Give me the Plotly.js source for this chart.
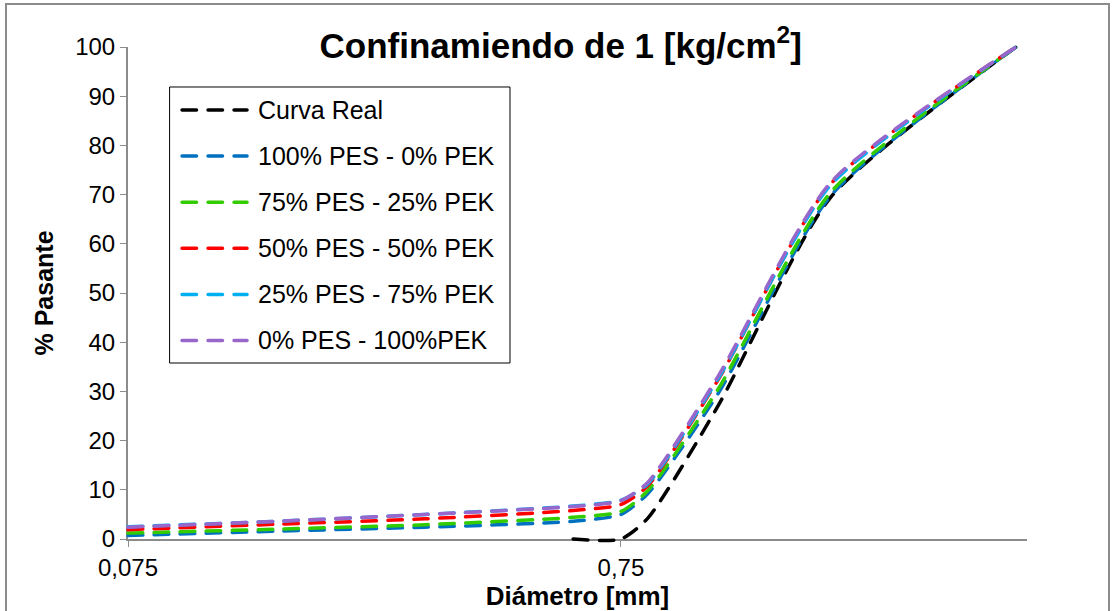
<!DOCTYPE html>
<html>
<head>
<meta charset="utf-8">
<script src="https://cdn.plot.ly/plotly-3.0.1.min.js"></script>
<style>
  html, body { margin: 0; padding: 0; background: #fff; }
  #wrap { position: relative; width: 1117px; height: 611px; overflow: hidden; }
  #chart { width: 1117px; height: 611px; }
  #frame { position: absolute; left: 5px; top: 3px; width: 1105px; height: 620px;
           border: 2px solid #8c8c8c; pointer-events: none; box-sizing: border-box; }
  .scatterlayer path.js-line, .shapelayer path { stroke-linecap: round; }
  /* let the curve ends at 0 % and 100 % show their full line width */
  .cartesianlayer g, .cartesianlayer path { clip-path: none !important; }
</style>
</head>
<body>
<div id="wrap">
  <div id="chart"></div>
  <div id="frame"></div>
</div>
<script>
// Sieve diameters [mm]
const diam = [0.075, 0.15, 0.3, 0.6, 0.75, 0.85, 1.18, 2.0, 4.75];
const diamReal = [0.6, 0.75, 0.85, 1.18, 2.0, 4.75];

// % passing for each mixture
const curvaReal = [0, 0, 4.2, 27, 69.5, 100];
const pes100pek0 = [0.7, 1.6, 2.4, 3.6, 5.0, 9.2, 29.5, 69.8, 100];
const pes75pek25 = [1.2, 2.0, 2.9, 4.4, 5.6, 9.8, 30.4, 70.5, 100];
const pes50pek50 = [1.9, 3.0, 4.1, 5.8, 7.0, 10.8, 32.3, 72.2, 100];
const pes25pek75 = [2.5, 3.6, 5.0, 6.7, 7.9, 11.2, 32.5, 72.0, 100];
const pes0pek100 = [2.4, 3.6, 5.0, 6.6, 7.8, 11.5, 33.0, 72.5, 100];

const seriesNames = ['Curva Real', '100% PES - 0% PEK', '75% PES - 25% PEK',
                     '50% PES - 50% PEK', '25% PES - 75% PEK', '0% PES - 100%PEK'];
const seriesColors = ['#000000', '#0070C0', '#33CC00', '#FF0000', '#00B0F0', '#9966CC'];

const xTickVals = [0.075, 0.75];
const xTickText = ['0,075', '0,75'];

const FONT = 'Arial, "Liberation Sans", sans-serif';
const DASH = '14.5px,11.5px';
const LINE_W = 3.5;

const xs = [diamReal, diam, diam, diam, diam, diam];
const ys = [curvaReal, pes100pek0, pes75pek25, pes50pek50, pes25pek75, pes0pek100];

const traces = ys.map((y, i) => ({
  type: 'scatter',
  mode: 'lines',
  x: xs[i],
  y: y,
  name: seriesNames[i],
  line: { color: seriesColors[i], width: LINE_W, dash: DASH, shape: 'spline', smoothing: 0.65 },
  cliponaxis: false,
  hoverinfo: 'skip'
}));

// Legend panel (paper coordinates of the plot area)
const legBox = { x0: 0.0467, x1: 0.4249, y0: 0.3577, y1: 0.9187 };
const legTop = 0.872, legStep = 0.0937;
const legLineX0 = 0.0601, legLineX1 = 0.1324, legTextX = 0.1424;

const shapes = [{
  type: 'rect', xref: 'paper', yref: 'paper',
  x0: legBox.x0, x1: legBox.x1, y0: legBox.y0, y1: legBox.y1,
  line: { color: '#000', width: 1 }, fillcolor: '#ffffff', layer: 'above'
}];
const annotations = [];
seriesNames.forEach((name, i) => {
  const yy = legTop - i * legStep;
  shapes.push({
    type: 'line', xref: 'paper', yref: 'paper',
    x0: legLineX0, x1: legLineX1, y0: yy, y1: yy,
    line: { color: seriesColors[i], width: LINE_W, dash: DASH }, layer: 'above'
  });
  annotations.push({
    xref: 'paper', yref: 'paper', x: legTextX, y: yy,
    xanchor: 'left', yanchor: 'middle', showarrow: false,
    text: name, font: { family: FONT, size: 25, color: '#000' }
  });
});

const layout = {
  width: 1117,
  height: 611,
  margin: { l: 128, r: 90, t: 47, b: 72 },
  paper_bgcolor: '#ffffff',
  plot_bgcolor: '#ffffff',
  font: { family: FONT, color: '#000', size: 24 },
  showlegend: false,
  title: {
    text: '<b>Confinamiendo de 1 [kg/cm<sup>2</sup>]</b>',
    font: { family: FONT, size: 35, color: '#000' },
    xref: 'container', x: 0.502, xanchor: 'center',
    yref: 'container', y: 0.925, yanchor: 'middle'
  },
  xaxis: {
    type: 'log',
    range: [Math.log10(0.075), Math.log10(5)],
    tickmode: 'array',
    tickvals: xTickVals,
    ticktext: xTickText,
    ticks: 'outside', ticklen: 6, tickwidth: 1, tickcolor: '#8c8c8c',
    showline: true, linecolor: '#8c8c8c', linewidth: 2,
    showgrid: false, zeroline: false, layer: 'below traces',
    tickfont: { family: FONT, size: 24, color: '#000' },
    title: { text: '<b>Diámetro [mm]</b>', font: { family: FONT, size: 26, color: '#000' }, standoff: 2 }
  },
  yaxis: {
    range: [0, 100],
    dtick: 10,
    ticks: 'outside', ticklen: 6, tickwidth: 1, tickcolor: '#8c8c8c',
    showline: true, linecolor: '#8c8c8c', linewidth: 2,
    showgrid: false, zeroline: false, layer: 'below traces',
    tickfont: { family: FONT, size: 24, color: '#000' },
    title: { text: '<b>% Pasante</b>', font: { family: FONT, size: 25, color: '#000' }, standoff: 14 }
  },
  shapes: shapes,
  annotations: annotations
};

Plotly.newPlot('chart', traces, layout, { staticPlot: true, displayModeBar: false });
</script>
</body>
</html>
